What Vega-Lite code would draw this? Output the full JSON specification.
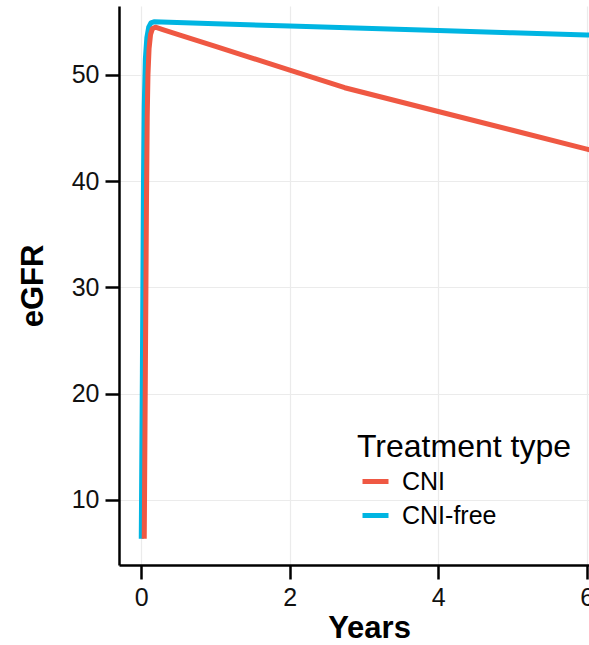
{
  "$schema": "https://vega.github.io/schema/vega-lite/v6.json",
  "width": 470,
  "height": 559,
  "autosize": {"type": "none"},
  "padding": {"left": 119, "top": 6, "right": 0, "bottom": 80},
  "config": {
    "view": {"stroke": null},
    "font": "Liberation Sans",
    "axis": {
      "grid": true,
      "gridColor": "#EBEBEB",
      "gridWidth": 1.2,
      "domainColor": "#000000",
      "domainWidth": 2.5,
      "tickColor": "#000000",
      "tickWidth": 2.5,
      "tickSize": 14,
      "labelFontSize": 25,
      "labelColor": "#111111",
      "labelPadding": 6,
      "titleFontSize": 31,
      "titleFontWeight": "bold",
      "titleColor": "#000000",
      "labelFlush": false
    }
  },
  "data": {
    "values": [
      {"years": 0.0, "egfr": 6.35, "type": "CNI-free"},
      {"years": 0.015, "egfr": 22, "type": "CNI-free"},
      {"years": 0.03, "egfr": 40, "type": "CNI-free"},
      {"years": 0.04, "egfr": 47, "type": "CNI-free"},
      {"years": 0.055, "egfr": 51.5, "type": "CNI-free"},
      {"years": 0.075, "egfr": 53.5, "type": "CNI-free"},
      {"years": 0.1, "egfr": 54.5, "type": "CNI-free"},
      {"years": 0.13, "egfr": 54.9, "type": "CNI-free"},
      {"years": 0.17, "egfr": 55.0, "type": "CNI-free"},
      {"years": 1, "egfr": 54.82, "type": "CNI-free"},
      {"years": 2, "egfr": 54.61, "type": "CNI-free"},
      {"years": 3, "egfr": 54.4, "type": "CNI-free"},
      {"years": 4, "egfr": 54.18, "type": "CNI-free"},
      {"years": 5, "egfr": 53.97, "type": "CNI-free"},
      {"years": 6, "egfr": 53.76, "type": "CNI-free"},
      {"years": 6.1, "egfr": 53.74, "type": "CNI-free"},
      {"years": 0.04, "egfr": 6.35, "type": "CNI"},
      {"years": 0.055, "egfr": 22, "type": "CNI"},
      {"years": 0.07, "egfr": 38, "type": "CNI"},
      {"years": 0.08, "egfr": 46, "type": "CNI"},
      {"years": 0.09, "egfr": 50, "type": "CNI"},
      {"years": 0.105, "egfr": 52.5, "type": "CNI"},
      {"years": 0.125, "egfr": 53.8, "type": "CNI"},
      {"years": 0.15, "egfr": 54.35, "type": "CNI"},
      {"years": 0.19, "egfr": 54.5, "type": "CNI"},
      {"years": 0.3, "egfr": 54.25, "type": "CNI"},
      {"years": 0.5, "egfr": 53.8, "type": "CNI"},
      {"years": 1, "egfr": 52.7, "type": "CNI"},
      {"years": 2, "egfr": 50.45, "type": "CNI"},
      {"years": 2.74, "egfr": 48.8, "type": "CNI"},
      {"years": 4, "egfr": 46.56, "type": "CNI"},
      {"years": 5, "egfr": 44.8, "type": "CNI"},
      {"years": 6, "egfr": 43.02, "type": "CNI"},
      {"years": 6.1, "egfr": 42.85, "type": "CNI"}
    ]
  },
  "mark": {"type": "line", "strokeWidth": 5, "strokeCap": "butt", "strokeJoin": "round", "clip": true},
  "encoding": {
    "x": {
      "field": "years",
      "type": "quantitative",
      "title": "Years",
      "scale": {"domain": [-0.3, 6.03], "nice": false, "zero": false},
      "axis": {"values": [0, 2, 4, 6], "titlePadding": 3, "titleX": 250}
    },
    "y": {
      "field": "egfr",
      "type": "quantitative",
      "title": "eGFR",
      "scale": {"domain": [3.88, 56.49], "nice": false, "zero": false},
      "axis": {"values": [10, 20, 30, 40, 50], "titlePadding": 22}
    },
    "color": {
      "field": "type",
      "type": "nominal",
      "scale": {"domain": ["CNI", "CNI-free"], "range": ["#EF5843", "#00B5E2"]},
      "legend": {
        "title": "Treatment type",
        "orient": "none",
        "legendX": 238,
        "legendY": 426,
        "padding": 0,
        "titleFontSize": 32,
        "titleFontWeight": "normal",
        "titleColor": "#000000",
        "titleLimit": 400,
        "titlePadding": 2,
        "labelFontSize": 25,
        "labelColor": "#000000",
        "labelOffset": 11,
        "labelLimit": 300,
        "symbolType": "stroke",
        "symbolSize": 676,
        "symbolStrokeWidth": 5,
        "symbolOffset": 3,
        "rowPadding": 5
      }
    },
    "order": {"field": "years", "type": "quantitative"}
  }
}
